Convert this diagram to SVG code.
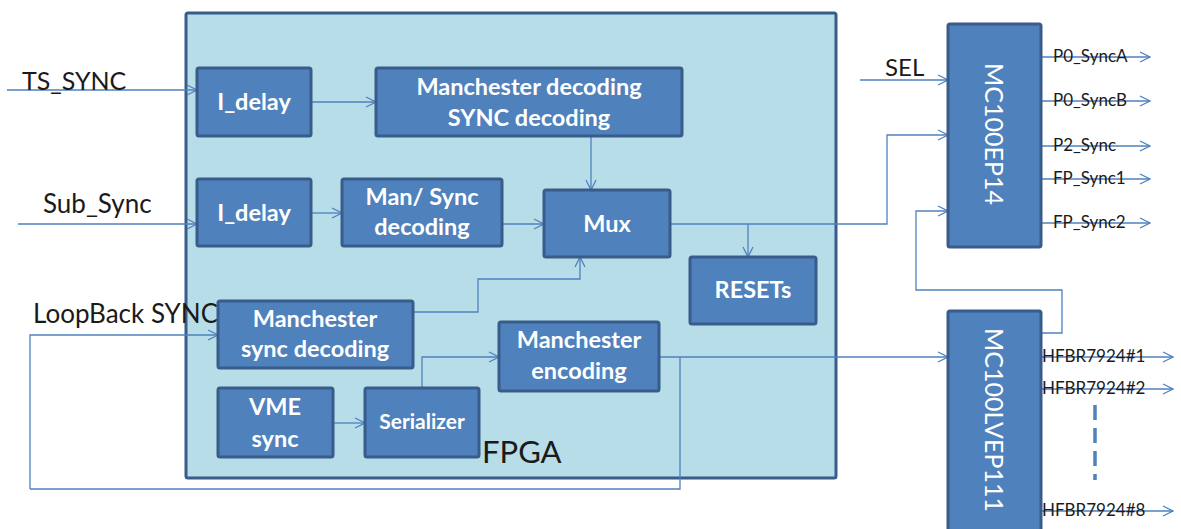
<svg xmlns="http://www.w3.org/2000/svg" width="1181" height="529" viewBox="0 0 1181 529">
<style>
.box{fill:#4f81bd;stroke:#385d8a;stroke-width:3}
.nt{font-family:Lato,"Liberation Sans",sans-serif;font-weight:bold;fill:#fff;text-anchor:middle;font-size:23.5px}
.vt{font-family:Lato,"Liberation Sans",sans-serif;fill:#fff;font-size:25px;text-anchor:middle}
.lbl{font-family:Lato,"Liberation Sans",sans-serif;fill:#1a1a1a;font-size:26px}
.sm{font-family:Lato,"Liberation Sans",sans-serif;fill:#1a1a1a;font-size:17px}
.c{fill:none;stroke:#4f81bd;stroke-width:1.3}
.a{marker-end:url(#arr)}
</style>
<defs>
<marker id="arr" viewBox="0 0 12 12" refX="11" refY="6" markerWidth="12" markerHeight="12" markerUnits="userSpaceOnUse" orient="auto">
<path d="M1,1 L11,6 L1,11" fill="none" stroke="#4f81bd" stroke-width="1.3"/>
</marker>
</defs>
<rect width="1181" height="529" fill="#fff"/>
<g id="fpga">
<rect x="186" y="13" width="650" height="465" rx="2" fill="#b7dde8" stroke="#385d8a" stroke-width="3"/>
<text x="482" y="463" font-family="Lato,'Liberation Sans',sans-serif" font-size="31" fill="#1a1a1a">FPGA</text>
</g>
<g id="connectors">
<path class="c a" d="M7,90 H197"/>
<path class="c a" d="M18,224 H197"/>
<path class="c a" d="M311,102 H376"/>
<path class="c a" d="M311,213 H342"/>
<path class="c a" d="M591,136 V190"/>
<path class="c a" d="M502,224 H544"/>
<path class="c a" d="M670,224 H887 V135 H948"/>
<path class="c a" d="M748,224 V257"/>
<path class="c a" d="M413,312 H478 V279 H580 V257"/>
<path class="c a" d="M30,489 V335 H218"/>
<path class="c" d="M680,357 V489 H30"/>
<path class="c a" d="M659,357 H948"/>
<path class="c a" d="M422,388 V357 H499"/>
<path class="c a" d="M333,423 H365"/>
<path class="c a" d="M860,80 H948"/>
<path class="c a" d="M1041,333 H1062 V290 H916 V211 H948"/>
<path class="c a" d="M1041,57 H1150"/>
<path class="c a" d="M1041,101 H1150"/>
<path class="c a" d="M1041,146 H1150"/>
<path class="c a" d="M1041,179 H1150"/>
<path class="c a" d="M1041,223 H1150"/>
<path class="c a" d="M1041,357 H1173"/>
<path class="c a" d="M1041,389 H1173"/>
<path class="c a" d="M1041,511 H1173"/>
<path d="M1095,405 V480" stroke="#4f81bd" stroke-width="3.5" stroke-dasharray="15,8" fill="none"/>
</g>
<g id="labels">
<text class="lbl" x="22" y="90" style="font-size:25px">TS_SYNC</text>
<text class="lbl" x="43" y="213">Sub_Sync</text>
<text class="lbl" x="33" y="323">LoopBack SYNC</text>
<text class="lbl" x="885" y="76" style="font-size:24px">SEL</text>
<text class="sm" x="1053" y="62">P0_SyncA</text>
<text class="sm" x="1053" y="106">P0_SyncB</text>
<text class="sm" x="1053" y="151">P2_Sync</text>
<text class="sm" x="1053" y="184">FP_Sync1</text>
<text class="sm" x="1053" y="228">FP_Sync2</text>
<text class="sm" x="1042" y="362">HFBR7924#1</text>
<text class="sm" x="1042" y="394">HFBR7924#2</text>
<text class="sm" x="1042" y="516">HFBR7924#8</text>
</g>
<g id="idelay1"><rect class="box" x="197" y="68" width="114" height="68" rx="2"/><text class="nt" x="254" y="110">I_delay</text></g>
<g id="mandec"><rect class="box" x="376" y="68" width="306" height="68" rx="2"/><text class="nt" x="529" y="95">Manchester decoding</text><text class="nt" x="529" y="126">SYNC decoding</text></g>
<g id="idelay2"><rect class="box" x="197" y="179" width="114" height="67" rx="2"/><text class="nt" x="254" y="221">I_delay</text></g>
<g id="mansync"><rect class="box" x="342" y="179" width="160" height="67" rx="2"/><text class="nt" x="422" y="205">Man/ Sync</text><text class="nt" x="422" y="235">decoding</text></g>
<g id="mux"><rect class="box" x="544" y="190" width="126" height="67" rx="2"/><text class="nt" x="607" y="232">Mux</text></g>
<g id="resets"><rect class="box" x="690" y="257" width="126" height="67" rx="2"/><text class="nt" x="753" y="298">RESETs</text></g>
<g id="mansyncdec"><rect class="box" x="218" y="301" width="195" height="67" rx="2"/><text class="nt" x="315" y="327">Manchester</text><text class="nt" x="315" y="357">sync decoding</text></g>
<g id="vme"><rect class="box" x="218" y="388" width="115" height="69" rx="2"/><text class="nt" x="275" y="415">VME</text><text class="nt" x="275" y="447">sync</text></g>
<g id="serializer"><rect class="box" x="365" y="388" width="114" height="69" rx="2"/><text class="nt" x="422" y="429" style="font-size:21px">Serializer</text></g>
<g id="manenc"><rect class="box" x="499" y="322" width="160" height="69" rx="2"/><text class="nt" x="579" y="348">Manchester</text><text class="nt" x="579" y="379">encoding</text></g>
<g id="ep14"><rect class="box" x="948" y="24" width="93" height="223" rx="2"/><text class="vt" transform="translate(985,134) rotate(90)">MC100EP14</text></g>
<g id="lvep111"><rect class="box" x="948" y="311" width="93" height="230" rx="2"/><text class="vt" transform="translate(985,420) rotate(90)">MC100LVEP111</text></g>
</svg>
